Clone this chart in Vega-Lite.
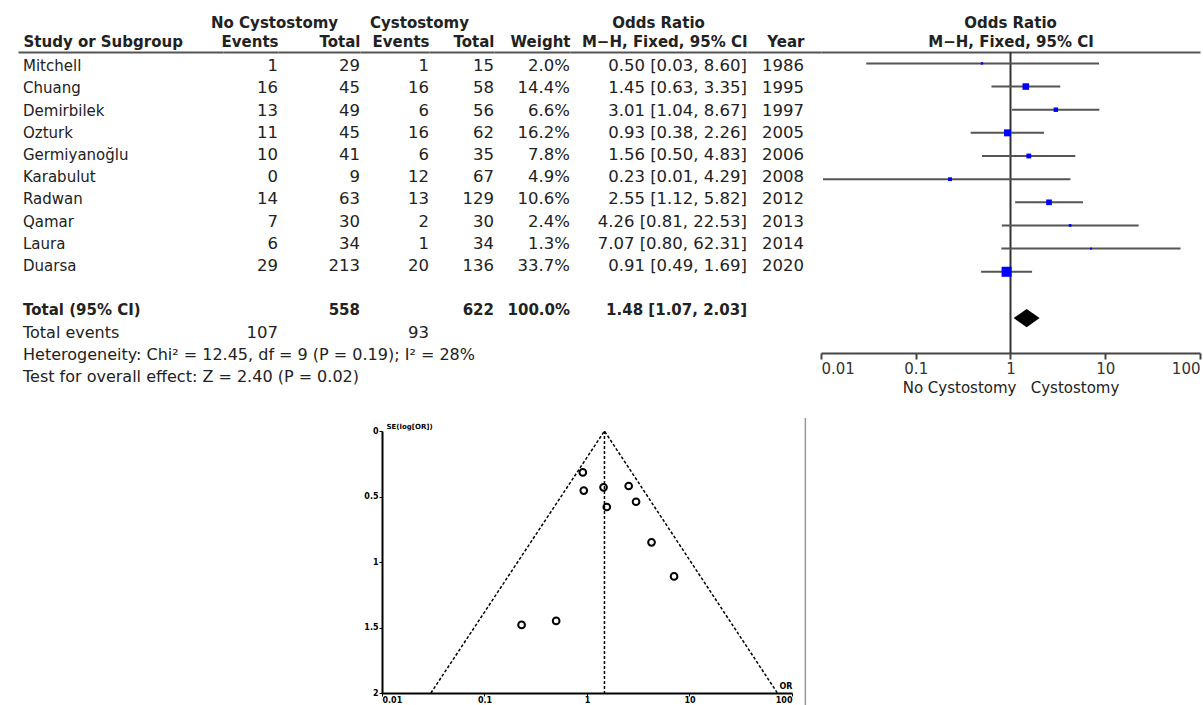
{
 "$schema": "https://vega.github.io/schema/vega-lite/v6.json",
 "background": "white",
 "padding": {"left": 15, "top": 16, "right": 5, "bottom": 0},
 "config": {
  "font": "DejaVu Sans",
  "view": {"stroke": null},
  "title": {"font": "DejaVu Sans", "fontSize": 15, "fontWeight": "bold", "color": "#222", "offset": 3},
  "axis": {"grid": false, "labelFont": "DejaVu Sans", "titleFont": "DejaVu Sans"},
  "axisTop": {"labels": false, "ticks": false, "domain": true, "domainColor": "#555", "domainWidth": 2, "titleFontSize": 15, "titleFontWeight": "bold", "titleColor": "#222", "titlePadding": 3},
  "text": {"font": "DejaVu Sans", "fontSize": 15, "color": "#222", "baseline": "middle"}
 },
 "datasets": {
  "studies": [
   {"row": "Mitchell", "e1": 1, "n1": 29, "e2": 1, "n2": 15, "weight": 0.020, "est": 0.50, "lo": 0.03, "hi": 8.60, "ci": "0.50 [0.03, 8.60]", "year": 1986, "se": 1.45},
   {"row": "Chuang", "e1": 16, "n1": 45, "e2": 16, "n2": 58, "weight": 0.144, "est": 1.45, "lo": 0.63, "hi": 3.35, "ci": "1.45 [0.63, 3.35]", "year": 1995, "se": 0.43},
   {"row": "Demirbilek", "e1": 13, "n1": 49, "e2": 6, "n2": 56, "weight": 0.066, "est": 3.01, "lo": 1.04, "hi": 8.67, "ci": "3.01 [1.04, 8.67]", "year": 1997, "se": 0.54},
   {"row": "Ozturk", "e1": 11, "n1": 45, "e2": 16, "n2": 62, "weight": 0.162, "est": 0.93, "lo": 0.38, "hi": 2.26, "ci": "0.93 [0.38, 2.26]", "year": 2005, "se": 0.455},
   {"row": "Germiyanoğlu", "e1": 10, "n1": 41, "e2": 6, "n2": 35, "weight": 0.078, "est": 1.56, "lo": 0.50, "hi": 4.83, "ci": "1.56 [0.50, 4.83]", "year": 2006, "se": 0.58},
   {"row": "Karabulut", "e1": 0, "n1": 9, "e2": 12, "n2": 67, "weight": 0.049, "est": 0.23, "lo": 0.0105, "hi": 4.29, "ci": "0.23 [0.01, 4.29]", "year": 2008, "se": 1.48},
   {"row": "Radwan", "e1": 14, "n1": 63, "e2": 13, "n2": 129, "weight": 0.106, "est": 2.55, "lo": 1.12, "hi": 5.82, "ci": "2.55 [1.12, 5.82]", "year": 2012, "se": 0.42},
   {"row": "Qamar", "e1": 7, "n1": 30, "e2": 2, "n2": 30, "weight": 0.024, "est": 4.26, "lo": 0.81, "hi": 22.53, "ci": "4.26 [0.81, 22.53]", "year": 2013, "se": 0.85},
   {"row": "Laura", "e1": 6, "n1": 34, "e2": 1, "n2": 34, "weight": 0.013, "est": 7.07, "lo": 0.80, "hi": 62.31, "ci": "7.07 [0.80, 62.31]", "year": 2014, "se": 1.11},
   {"row": "Duarsa", "e1": 29, "n1": 213, "e2": 20, "n2": 136, "weight": 0.337, "est": 0.91, "lo": 0.49, "hi": 1.69, "ci": "0.91 [0.49, 1.69]", "year": 2020, "se": 0.316}
  ],
  "total": [
   {"row": "Total", "label": "Total (95% CI)", "n1": 558, "n2": 622, "weight": 1, "est": 1.48, "lo": 1.07, "hi": 2.03, "ci": "1.48 [1.07, 2.03]"}
  ],
  "foot": [
   {"row": "Total events", "label": "Total events", "e1": 107, "e2": 93},
   {"row": "Heterogeneity", "label": "Heterogeneity: Chi² = 12.45, df = 9 (P = 0.19); I² = 28%"},
   {"row": "Test", "label": "Test for overall effect: Z = 2.40 (P = 0.02)"}
  ]
 },
 "spacing": 22,
 "vconcat": [
  {
   "bounds": "flush",
   "spacing": 0,
   "resolve": {"scale": {"x": "independent", "y": "independent"}},
   "hconcat": [
    {
     "width": 205, "height": 339.2,
     "encoding": {
      "y": {"field": "row", "type": "nominal", "scale": {"type": "point", "domain": ["Mitchell","Chuang","Demirbilek","Ozturk","Germiyanoğlu","Karabulut","Radwan","Qamar","Laura","Duarsa","gap","Total","Total events","Heterogeneity","Test"], "padding": 0.64}, "axis": null},
      "x": {"datum": 0, "type": "quantitative", "scale": {"domain": [0, 1]}, "axis": {"orient": "top", "title": "Study or Subgroup", "titleX": 5, "titleAlign": "left", "titleAnchor": "start"}}
     },
     "layer": [
      {"data": {"name": "studies"}, "mark": {"type": "text", "align": "left", "dx": 5}, "encoding": {"text": {"field": "row", "type": "nominal"}}},
      {"data": {"name": "total"}, "mark": {"type": "text", "align": "left", "dx": 5, "fontWeight": "bold"}, "encoding": {"text": {"field": "label", "type": "nominal"}}},
      {"data": {"name": "foot"}, "mark": {"type": "text", "align": "left", "dx": 5, "fontSize": 16}, "encoding": {"text": {"field": "label", "type": "nominal"}}}
     ]
    },
    {
     "width": 55, "height": 339.2,
     "title": {"text": "No Cystostomy", "anchor": "start", "dx": -10},
     "encoding": {
      "y": {"field": "row", "type": "nominal", "scale": {"type": "point", "domain": ["Mitchell","Chuang","Demirbilek","Ozturk","Germiyanoğlu","Karabulut","Radwan","Qamar","Laura","Duarsa","gap","Total","Total events","Heterogeneity","Test"], "padding": 0.64}, "axis": null},
      "x": {"datum": 1, "type": "quantitative", "scale": {"domain": [0, 1]}, "axis": {"orient": "top", "title": "Events", "titleAnchor": "end"}}
     },
     "layer": [
      {"data": {"name": "studies"}, "mark": {"type": "text", "align": "right", "fontSize": 16.5}, "encoding": {"text": {"field": "e1", "type": "nominal"}}},
      {"data": {"name": "foot"}, "transform": [{"filter": "isValid(datum.e1)"}], "mark": {"type": "text", "align": "right", "fontSize": 16.5}, "encoding": {"text": {"field": "e1", "type": "nominal"}}}
     ]
    },
    {
     "width": 82, "height": 339.2,
     "encoding": {
      "y": {"field": "row", "type": "nominal", "scale": {"type": "point", "domain": ["Mitchell","Chuang","Demirbilek","Ozturk","Germiyanoğlu","Karabulut","Radwan","Qamar","Laura","Duarsa","gap","Total","Total events","Heterogeneity","Test"], "padding": 0.64}, "axis": null},
      "x": {"datum": 1, "type": "quantitative", "scale": {"domain": [0, 1]}, "axis": {"orient": "top", "title": "Total", "titleAnchor": "end"}}
     },
     "layer": [
      {"data": {"name": "studies"}, "mark": {"type": "text", "align": "right", "fontSize": 16.5}, "encoding": {"text": {"field": "n1", "type": "nominal"}}},
      {"data": {"name": "total"}, "mark": {"type": "text", "align": "right", "fontWeight": "bold"}, "encoding": {"text": {"field": "n1", "type": "nominal"}}}
     ]
    },
    {
     "width": 69, "height": 339.2,
     "title": {"text": "Cystostomy", "anchor": "start", "dx": 10},
     "encoding": {
      "y": {"field": "row", "type": "nominal", "scale": {"type": "point", "domain": ["Mitchell","Chuang","Demirbilek","Ozturk","Germiyanoğlu","Karabulut","Radwan","Qamar","Laura","Duarsa","gap","Total","Total events","Heterogeneity","Test"], "padding": 0.64}, "axis": null},
      "x": {"datum": 1, "type": "quantitative", "scale": {"domain": [0, 1]}, "axis": {"orient": "top", "title": "Events", "titleAnchor": "end"}}
     },
     "layer": [
      {"data": {"name": "studies"}, "mark": {"type": "text", "align": "right", "fontSize": 16.5}, "encoding": {"text": {"field": "e2", "type": "nominal"}}},
      {"data": {"name": "foot"}, "transform": [{"filter": "isValid(datum.e2)"}], "mark": {"type": "text", "align": "right", "fontSize": 16.5}, "encoding": {"text": {"field": "e2", "type": "nominal"}}}
     ]
    },
    {
     "width": 65, "height": 339.2,
     "encoding": {
      "y": {"field": "row", "type": "nominal", "scale": {"type": "point", "domain": ["Mitchell","Chuang","Demirbilek","Ozturk","Germiyanoğlu","Karabulut","Radwan","Qamar","Laura","Duarsa","gap","Total","Total events","Heterogeneity","Test"], "padding": 0.64}, "axis": null},
      "x": {"datum": 1, "type": "quantitative", "scale": {"domain": [0, 1]}, "axis": {"orient": "top", "title": "Total", "titleAnchor": "end"}}
     },
     "layer": [
      {"data": {"name": "studies"}, "mark": {"type": "text", "align": "right", "fontSize": 16.5}, "encoding": {"text": {"field": "n2", "type": "nominal"}}},
      {"data": {"name": "total"}, "mark": {"type": "text", "align": "right", "fontWeight": "bold"}, "encoding": {"text": {"field": "n2", "type": "nominal"}}}
     ]
    },
    {
     "width": 76, "height": 339.2,
     "encoding": {
      "y": {"field": "row", "type": "nominal", "scale": {"type": "point", "domain": ["Mitchell","Chuang","Demirbilek","Ozturk","Germiyanoğlu","Karabulut","Radwan","Qamar","Laura","Duarsa","gap","Total","Total events","Heterogeneity","Test"], "padding": 0.64}, "axis": null},
      "x": {"datum": 1, "type": "quantitative", "scale": {"domain": [0, 1]}, "axis": {"orient": "top", "title": "Weight", "titleAnchor": "end"}}
     },
     "layer": [
      {"data": {"name": "studies"}, "mark": {"type": "text", "align": "right", "fontSize": 16.5}, "encoding": {"text": {"field": "weight", "type": "quantitative", "format": ".1%"}}},
      {"data": {"name": "total"}, "mark": {"type": "text", "align": "right", "fontWeight": "bold"}, "encoding": {"text": {"field": "weight", "type": "quantitative", "format": ".1%"}}}
     ]
    },
    {
     "width": 177, "height": 339.2,
     "title": {"text": "Odds Ratio", "anchor": "middle"},
     "encoding": {
      "y": {"field": "row", "type": "nominal", "scale": {"type": "point", "domain": ["Mitchell","Chuang","Demirbilek","Ozturk","Germiyanoğlu","Karabulut","Radwan","Qamar","Laura","Duarsa","gap","Total","Total events","Heterogeneity","Test"], "padding": 0.64}, "axis": null},
      "x": {"datum": 1, "type": "quantitative", "scale": {"domain": [0, 1]}, "axis": {"orient": "top", "title": "M−H, Fixed, 95% CI", "titleAnchor": "end"}}
     },
     "layer": [
      {"data": {"name": "studies"}, "mark": {"type": "text", "align": "right", "fontSize": 16.5}, "encoding": {"text": {"field": "ci", "type": "nominal"}}},
      {"data": {"name": "total"}, "mark": {"type": "text", "align": "right", "fontWeight": "bold"}, "encoding": {"text": {"field": "ci", "type": "nominal"}}}
     ]
    },
    {
     "width": 74, "height": 339.2,
     "encoding": {
      "y": {"field": "row", "type": "nominal", "scale": {"type": "point", "domain": ["Mitchell","Chuang","Demirbilek","Ozturk","Germiyanoğlu","Karabulut","Radwan","Qamar","Laura","Duarsa","gap","Total","Total events","Heterogeneity","Test"], "padding": 0.64}, "axis": null},
      "x": {"datum": 1, "type": "quantitative", "scale": {"domain": [0, 1]}, "axis": {"orient": "top", "title": "Year", "titleX": 57, "titleAlign": "right"}}
     },
     "layer": [
      {"data": {"name": "studies"}, "mark": {"type": "text", "align": "right", "dx": -17, "fontSize": 16.5}, "encoding": {"text": {"field": "year", "type": "nominal"}}}
     ]
    },
    {
     "width": 379, "height": 301,
     "title": {"text": "Odds Ratio", "anchor": "middle"},
     "resolve": {"axis": {"x": "independent"}},
     "layer": [
      {"data": {"values": [{}]}, "mark": {"type": "rule", "color": "#333", "strokeWidth": 2},
       "encoding": {"x": {"datum": 1, "type": "quantitative", "scale": {"type": "log", "domain": [0.01, 100], "nice": false}, "axis": {"orient": "top", "title": "M−H, Fixed, 95% CI"}}}},
      {"data": {"name": "studies"}, "mark": {"type": "rule", "color": "#555", "strokeWidth": 2},
       "encoding": {
        "x": {"field": "lo", "type": "quantitative", "axis": {"orient": "bottom", "values": [0.01, 0.1, 1, 10, 100], "format": "~g", "title": "No Cystostomy\u00a0\u00a0 Cystostomy", "labelFontSize": 15, "labelColor": "#333", "titleFontSize": 15, "titleFontWeight": "normal", "titleColor": "#222", "domainColor": "#444", "domainWidth": 2, "tickColor": "#444", "tickWidth": 2, "tickSize": 6, "labelPadding": 2, "titlePadding": 4}},
        "x2": {"field": "hi"},
        "y": {"field": "row", "type": "nominal", "scale": {"type": "point", "domain": ["Mitchell","Chuang","Demirbilek","Ozturk","Germiyanoğlu","Karabulut","Radwan","Qamar","Laura","Duarsa","gap","Total"], "padding": 1.28, "align": 0.246}, "axis": null}
       }},
      {"data": {"name": "studies"}, "mark": {"type": "point", "shape": "square", "filled": true, "color": "#0000ff", "opacity": 1},
       "encoding": {
        "x": {"field": "est", "type": "quantitative", "axis": null},
        "y": {"field": "row", "type": "nominal", "axis": null},
        "size": {"field": "weight", "type": "quantitative", "scale": {"domain": [0, 1], "range": [0, 300]}, "legend": null}
       }},
      {"data": {"name": "total"}, "mark": {"type": "point", "shape": "M-1,0L0,-0.7L1,0L0,0.7Z", "filled": true, "color": "#000", "size": 676, "opacity": 1},
       "encoding": {
        "x": {"field": "est", "type": "quantitative", "axis": null},
        "y": {"field": "row", "type": "nominal", "axis": null}
       }}
     ]
    }
   ]
  },
  {
   "bounds": "flush",
   "spacing": 363,
   "hconcat": [
    {"width": 1, "height": 1, "data": {"values": [{}]}, "mark": {"type": "point", "opacity": 0}, "encoding": {}},
    {
     "width": 410, "height": 262,
     "layer": [
      {"data": {"values": [{"est": 0.03, "se": 2}, {"est": 1.48, "se": 0}, {"est": 72, "se": 2}]},
       "mark": {"type": "line", "color": "#000", "strokeWidth": 1.5, "strokeDash": [3, 2]},
       "encoding": {
        "x": {"field": "est", "type": "quantitative", "scale": {"type": "log", "domain": [0.01, 100], "nice": false},
              "axis": {"values": [0.01, 0.1, 1, 10, 100], "format": "~g", "labelFontSize": 8, "labelFontWeight": "bold", "labelColor": "#000", "domainColor": "#000", "domainWidth": 2, "tickColor": "#000", "tickSize": 3, "labelPadding": 0, "title": "OR", "titleFontSize": 8, "titleFontWeight": "bold", "titleColor": "#000", "titleX": 410, "titleY": -7, "titleAlign": "right", "titleBaseline": "middle"}},
        "y": {"field": "se", "type": "quantitative", "scale": {"domain": [0, 2], "reverse": true, "nice": false, "zero": false},
              "axis": {"values": [0, 0.5, 1, 1.5, 2], "format": "~g", "labelFontSize": 8, "labelFontWeight": "bold", "labelColor": "#000", "domainColor": "#000", "domainWidth": 2, "tickColor": "#000", "tickSize": 3, "labelPadding": 1, "title": "SE(log[OR])", "titleFontSize": 7, "titleFontWeight": "bold", "titleColor": "#000", "titleAngle": 0, "titleX": 4, "titleY": -5, "titleAlign": "left", "titleBaseline": "middle"}}
       }},
      {"data": {"values": [{}]}, "mark": {"type": "rule", "color": "#000", "strokeWidth": 1.5, "strokeDash": [3, 2]},
       "encoding": {"x": {"datum": 1.48, "type": "quantitative"}, "y": {"datum": 0, "type": "quantitative"}, "y2": {"datum": 2}}},
      {"data": {"name": "studies"}, "mark": {"type": "point", "shape": "circle", "filled": false, "color": "#000", "strokeWidth": 2, "size": 45, "opacity": 1},
       "encoding": {"x": {"field": "est", "type": "quantitative"}, "y": {"field": "se", "type": "quantitative"}}},
      {"data": {"values": [{}]}, "mark": {"type": "rule", "color": "#999", "strokeWidth": 1.5},
       "encoding": {"x": {"datum": 135, "type": "quantitative"}, "y": {"datum": -0.1, "type": "quantitative"}, "y2": {"datum": 2.1}}}
     ]
    }
   ]
  }
 ]
}
